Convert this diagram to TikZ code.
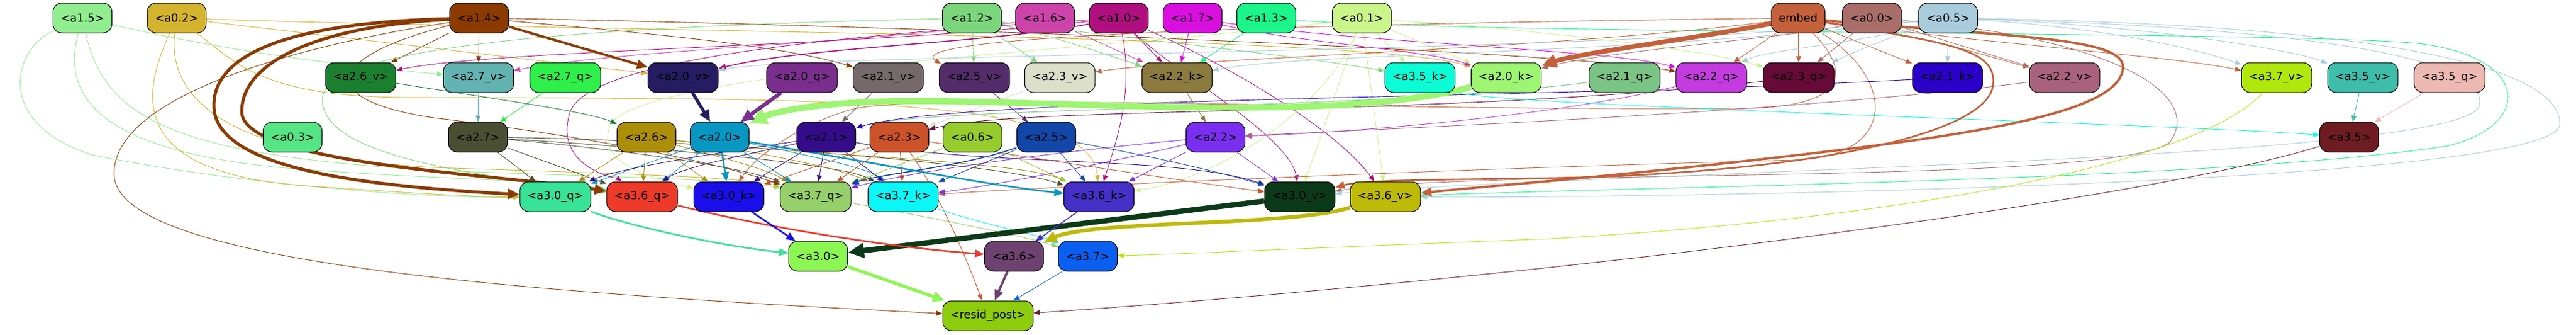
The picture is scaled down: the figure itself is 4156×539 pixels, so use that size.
\documentclass[tikz,border=0pt]{standalone}
\usepackage{fontspec}
\setmainfont{DejaVu Sans}
\usetikzlibrary{arrows.meta}
\pgfdeclarelayer{back}
\pgfdeclarelayer{bg}
\pgfsetlayers{back,bg,main}
\definecolor{c15}{HTML}{90EE90}\definecolor{c02}{HTML}{D4B32E}\definecolor{c14}{HTML}{8B3A00}
\definecolor{c12}{HTML}{7BD67B}\definecolor{c16}{HTML}{CC44AA}\definecolor{c10}{HTML}{B0107F}
\definecolor{c17}{HTML}{D90FE0}\definecolor{c13}{HTML}{1BF58A}\definecolor{c01}{HTML}{C9F58A}
\definecolor{cem}{HTML}{C4613A}\definecolor{c00}{HTML}{AA6E6A}\definecolor{c05}{HTML}{A9CCDC}
\definecolor{c26v}{HTML}{1B7F30}\definecolor{c27v}{HTML}{62B3B1}\definecolor{c27q}{HTML}{2FEF4A}
\definecolor{c20v}{HTML}{261C62}\definecolor{c20q}{HTML}{7A2F8E}\definecolor{c21v}{HTML}{76696A}
\definecolor{c25v}{HTML}{522D6A}\definecolor{c23v}{HTML}{DCDFC9}\definecolor{c22k}{HTML}{8B7B3E}
\definecolor{c35k}{HTML}{0CFCD6}\definecolor{c20k}{HTML}{9EF572}\definecolor{c21q}{HTML}{7AC485}
\definecolor{c22q}{HTML}{C43CE0}\definecolor{c23q}{HTML}{660A38}\definecolor{c21k}{HTML}{2B00C8}
\definecolor{c22v}{HTML}{A9627E}\definecolor{c37v}{HTML}{B0E80E}\definecolor{c35v}{HTML}{3DBDAA}
\definecolor{c35q}{HTML}{EDBAB3}\definecolor{c03}{HTML}{56E585}\definecolor{c27}{HTML}{4A4E32}
\definecolor{c26}{HTML}{AD8E09}\definecolor{c20}{HTML}{0897C2}\definecolor{c21}{HTML}{340C8A}
\definecolor{c23}{HTML}{CC5229}\definecolor{c06}{HTML}{97CC2F}\definecolor{c25}{HTML}{1246A8}
\definecolor{c22}{HTML}{7A2FF0}\definecolor{c35}{HTML}{6E1C22}\definecolor{c30q}{HTML}{38E297}
\definecolor{c36q}{HTML}{EE3A28}\definecolor{c30k}{HTML}{1A0EEA}\definecolor{c37q}{HTML}{96D06A}
\definecolor{c37k}{HTML}{0AF6F7}\definecolor{c36k}{HTML}{4530C8}\definecolor{c30v}{HTML}{0B3A18}
\definecolor{c36v}{HTML}{BEBA08}\definecolor{c30}{HTML}{8CF752}\definecolor{c36}{HTML}{6E4270}
\definecolor{c37}{HTML}{0A5FF0}\definecolor{cres}{HTML}{8ECC0E}
\tikzset{
 nd/.style={draw=black, line width=1pt, rounded corners=14pt, minimum width=95pt, minimum height=48pt, inner xsep=12pt, inner ysep=0pt, font=\fontsize{18}{21}\selectfont, text=black},
 e1/.style={draw=#1, line width=0.9pt, -{Triangle[length=10pt,width=8pt]}},
 e2/.style={draw=#1, line width=1.6pt, -{Triangle[length=12pt,width=10pt]}},
 e3/.style={draw=#1, line width=2.6pt, -{Triangle[length=15pt,width=12pt]}},
 e4/.style={draw=#1, line width=3.8pt, -{Triangle[length=17pt,width=14pt]}},
 e5/.style={draw=#1, line width=5pt, -{Triangle[length=19pt,width=16pt]}},
 e6/.style={draw=#1, line width=6pt, -{Triangle[length=21pt,width=18pt]}},
 e7/.style={draw=#1, line width=7.5pt, -{Triangle[length=24pt,width=21pt]}},
 e8/.style={draw=#1, line width=8.5pt, -{Triangle[length=26pt,width=23pt]}},
 e9/.style={draw=#1, line width=10pt, -{Triangle[length=28pt,width=26pt]}},
}
\begin{document}
\begin{tikzpicture}[x=1pt,y=-1pt]
\begin{pgfonlayer}{back}
\fill[white] (0,0) rectangle (4156,539);
\end{pgfonlayer}
\useasboundingbox (0,0) rectangle (4156,539);
% row 1
\node[nd,fill=c15] (a15) at (133,29) {<a1.5>};
\node[nd,fill=c02] (a02) at (285,29) {<a0.2>};
\node[nd,fill=c14] (a14) at (773,29) {<a1.4>};
\node[nd,fill=c12] (a12) at (1568,29) {<a1.2>};
\node[nd,fill=c16] (a16) at (1686,29) {<a1.6>};
\node[nd,fill=c10] (a10) at (1805,29) {<a1.0>};
\node[nd,fill=c17] (a17) at (1924,29) {<a1.7>};
\node[nd,fill=c13] (a13) at (2043,29) {<a1.3>};
\node[nd,fill=c01] (a01) at (2197,29) {<a0.1>};
\node[nd,fill=cem,minimum width=86pt] (embed) at (2901,29) {embed};
\node[nd,fill=c00] (a00) at (3020,29) {<a0.0>};
\node[nd,fill=c05] (a05) at (3143,29) {<a0.5>};
% row 2
\node[nd,fill=c26v] (a26v) at (582,125) {<a2.6\_v>};
\node[nd,fill=c27v] (a27v) at (772,125) {<a2.7\_v>};
\node[nd,fill=c27q] (a27q) at (912,125) {<a2.7\_q>};
\node[nd,fill=c20v] (a20v) at (1102,125) {<a2.0\_v>};
\node[nd,fill=c20q] (a20q) at (1294,125) {<a2.0\_q>};
\node[nd,fill=c21v] (a21v) at (1433,125) {<a2.1\_v>};
\node[nd,fill=c25v] (a25v) at (1572,125) {<a2.5\_v>};
\node[nd,fill=c23v] (a23v) at (1710,125) {<a2.3\_v>};
\node[nd,fill=c22k] (a22k) at (1899,125) {<a2.2\_k>};
\node[nd,fill=c35k] (a35k) at (2291,125) {<a3.5\_k>};
\node[nd,fill=c20k] (a20k) at (2430,125) {<a2.0\_k>};
\node[nd,fill=c21q] (a21q) at (2621,125) {<a2.1\_q>};
\node[nd,fill=c22q] (a22q) at (2761,125) {<a2.2\_q>};
\node[nd,fill=c23q] (a23q) at (2902,125) {<a2.3\_q>};
\node[nd,fill=c21k] (a21k) at (3142,125) {<a2.1\_k>};
\node[nd,fill=c22v] (a22v) at (3331,125) {<a2.2\_v>};
\node[nd,fill=c37v] (a37v) at (3673,125) {<a3.7\_v>};
\node[nd,fill=c35v] (a35v) at (3812,125) {<a3.5\_v>};
\node[nd,fill=c35q] (a35q) at (3952,125) {<a3.5\_q>};
% row 3
\node[nd,fill=c03] (a03) at (472,221) {<a0.3>};
\node[nd,fill=c27] (a27) at (771,221) {<a2.7>};
\node[nd,fill=c26] (a26) at (1043,221) {<a2.6>};
\node[nd,fill=c20] (a20) at (1161,221) {<a2.0>};
\node[nd,fill=c21] (a21) at (1333,221) {<a2.1>};
\node[nd,fill=c23] (a23) at (1451,221) {<a2.3>};
\node[nd,fill=c06] (a06) at (1569,221) {<a0.6>};
\node[nd,fill=c25] (a25) at (1688,221) {<a2.5>};
\node[nd,fill=c22] (a22) at (1961,221) {<a2.2>};
\node[nd,fill=c35] (a35) at (3790,221) {<a3.5>};
% row 4
\node[nd,fill=c30q] (a30q) at (896,317) {<a3.0\_q>};
\node[nd,fill=c36q] (a36q) at (1036,317) {<a3.6\_q>};
\node[nd,fill=c30k] (a30k) at (1176,317) {<a3.0\_k>};
\node[nd,fill=c37q] (a37q) at (1316,317) {<a3.7\_q>};
\node[nd,fill=c37k] (a37k) at (1457,317) {<a3.7\_k>};
\node[nd,fill=c36k] (a36k) at (1773,317) {<a3.6\_k>};
\node[nd,fill=c30v] (a30v) at (2097,317) {<a3.0\_v>};
\node[nd,fill=c36v] (a36v) at (2235,317) {<a3.6\_v>};
% row 5, 6
\node[nd,fill=c30] (a30) at (1320,413) {<a3.0>};
\node[nd,fill=c36] (a36) at (1636,413) {<a3.6>};
\node[nd,fill=c37] (a37) at (1755,413) {<a3.7>};
\node[nd,fill=cres] (resid) at (1594,509) {<resid\_post>};

\begin{pgfonlayer}{bg}
% ---- thin edges from row 1
\draw[e1=c15] (a15) .. controls (400,90) and (600,110) .. (a27v);
\draw[e1=c15] (a15) .. controls (20,80) and (-10,200) .. (150,250) .. controls (400,300) and (700,320) .. (a30q);
\draw[e1=c15] (a15) .. controls (100,150) and (150,240) .. (450,270) .. controls (700,290) and (900,290) .. (a36q);
\draw[e1=c15] (a15) .. controls (170,200) and (300,250) .. (700,275) .. controls (1000,285) and (1200,290) .. (a37q);
\draw[e1=c02] (a02) -- (a20v);
\draw[e1=c02] (a02) .. controls (900,50) and (2200,55) .. (a20k);
\draw[e1=c02] (a02) .. controls (380,100) and (420,155) .. (650,157) .. controls (1300,160) and (1760,150) .. (a36k);
\draw[e1=c02] (a02) .. controls (230,150) and (200,280) .. (500,300) .. controls (650,310) and (760,318) .. (a30q);
\draw[e1=c02] (a02) .. controls (270,150) and (350,250) .. (700,270) .. controls (1000,280) and (1200,285) .. (a37q);
\draw[e1=c14] (a14) -- (a27v);
\draw[e1=c14] (a14) -- (a26v);
\draw[e1=c14] (a14) .. controls (1000,50) and (1250,70) .. (a21v);
\draw[e1=c14] (a14) .. controls (1400,40) and (2500,80) .. (a22q);
\draw[e1=c14] (a14) .. controls (530,90) and (500,160) .. (700,190) .. controls (950,220) and (1150,260) .. (a37q);
\draw[e1=c14] (a14) .. controls (500,70) and (184,150) .. (184,280) .. controls (184,420) and (800,470) .. (resid);
\draw[e1=c12] (a12) -- (a25v);
\draw[e1=c12] (a12) -- (a23v);
\draw[e1=c12] (a12) .. controls (1700,60) .. (a22k);
\draw[e1=c12] (a12) .. controls (1800,60) and (2100,90) .. (a35k);
\draw[e1=c12] (a12) .. controls (1100,40) and (520,60) .. (520,160) .. controls (520,250) and (750,280) .. (a36q);
\draw[e1=c16] (a16) -- (a22k);
\draw[e1=c16] (a16) .. controls (1400,70) and (1000,80) .. (a27v);
\draw[e1=c10] (a10) -- (a22k);
\draw[e2=c10] (a10) .. controls (1600,70) and (1300,75) .. (a20v);
\draw[e1=c10] (a10) .. controls (1400,75) and (800,80) .. (a26v);
\draw[e1=c10] (a10) .. controls (1830,150) and (1800,230) .. (a36k);
\draw[e1=c10] (a10) .. controls (1900,120) and (2080,220) .. (a30v);
\draw[e1=c10] (a10) .. controls (1950,90) and (2150,200) .. (a36v);
\draw[e1=c10] (a10) .. controls (1300,60) and (950,100) .. (920,180) .. controls (890,270) and (1000,290) .. (a36q);
\draw[e1=c17] (a17) -- (a22k);
\draw[e1=c17] (a17) .. controls (2100,70) and (2300,80) .. (a20k);
\draw[e1=c17] (a17) .. controls (2200,70) and (2600,80) .. (a22q);
\draw[e1=c13] (a13) -- (a22k);
\draw[e1=c13] (a13) .. controls (2400,56) and (3700,50) .. (3900,70) .. controls (4080,90) and (4090,200) .. (3950,235) .. controls (3600,290) and (2700,300) .. (a36v);
\draw[e1=c01] (a01) -- (a35k);
\draw[e1=c01] (a01) -- (a20k);
\draw[e1=c01] (a01) .. controls (2500,50) and (2750,80) .. (a23q);
\draw[e1=c01] (a01) -- (a30v);
\draw[e1=c01] (a01) -- (a36v);
\draw[e1=c01] (a01) .. controls (2150,150) and (2000,280) .. (a36k);
\draw[e1=c01] (a01) .. controls (1800,80) and (1050,110) .. (985,200) .. controls (960,260) and (1040,285) .. (a30k);
\draw[e1=cem] (embed) -- (a23q);
\draw[e1=cem] (embed) -- (a22q);
\draw[e1=cem] (embed) -- (a21k);
\draw[e1=cem] (embed) .. controls (3100,60) .. (a22v);
\draw[e1=cem] (embed) .. controls (3200,70) and (3500,90) .. (a37v);
\draw[e1=cem] (embed) .. controls (2000,40) and (1450,60) .. (1518,103);
\draw[e1=cem] (embed) .. controls (2500,80) and (1900,95) .. (a23v);
\draw[e1=cem] (embed) .. controls (2990,120) and (2980,175) .. (2800,175) .. controls (2200,178) and (1500,150) .. (1380,175) .. controls (1300,195) and (1220,250) .. (a30k);
\draw[e1=cem] (embed) .. controls (3060,130) and (3060,250) .. (2900,258) .. controls (2400,270) and (1700,300) .. (a37k);
\draw[e1=c00] (a00) -- (a23q);
\draw[e1=c00] (a00) .. controls (2900,60) and (2600,80) .. (a20k);
\draw[e1=c00] (a00) -- (a22v);
\draw[e1=c00] (a00) .. controls (3400,60) and (3560,150) .. (3500,230) .. controls (3400,300) and (2400,270) .. (a30v);
\draw[e1=c05] (a05) -- (a21k);
\draw[e1=c05] (a05) .. controls (3400,45) and (3550,80) .. (a37v);
\draw[e1=c05] (a05) .. controls (3450,40) and (3700,80) .. (a35v);
\draw[e1=c05] (a05) .. controls (3050,60) and (3000,80) .. (a23q);
\draw[e1=c05] (a05) .. controls (3000,70) and (2850,80) .. (a22q);
\draw[e1=c05] (a05) .. controls (2600,90) and (2100,85) .. (a22k);
\draw[e1=c05] (a05) .. controls (2500,90) and (1300,85) .. (a20v);
\draw[e1=c05] (a05) .. controls (3800,40) and (4130,100) .. (4130,200) .. controls (4130,300) and (2600,320) .. (a36v);
\draw[e1=c05] (a05) .. controls (3700,45) and (4020,90) .. (4000,170) .. controls (3980,260) and (2600,275) .. (a30v);
% ---- row 2 to row 3
\draw[e1=c27v] (a27v) -- (a27);
\draw[e1=c27q] (a27q) -- (a27);
\draw[e1=c26v] (a26v) .. controls (800,160) and (950,180) .. (a26);
\draw[e1=c21v] (a21v) -- (a21);
\draw[e1=c25v] (a25v) -- (a25);
\draw[e1=c23v] (a23v) -- (a23);
\draw[e1=c22k] (a22k) -- (a22);
\draw[e1=c21q] (a21q) .. controls (2200,180) and (1500,170) .. (a21);
\draw[e1=c21k] (a21k) .. controls (2500,160) and (1550,155) .. (a21);
\draw[e1=c23q] (a23q) .. controls (2300,190) and (1650,170) .. (a23);
\draw[e1=c22q] (a22q) .. controls (2500,190) and (2150,215) .. (a22);
\draw[e1=c22v] (a22v) .. controls (2900,180) and (2300,205) .. (a22);
\draw[e1=c35k] (a35k) .. controls (2400,170) and (3500,200) .. (a35);
\draw[e1=c35v] (a35v) -- (a35);
\draw[e1=c35q] (a35q) -- (a35);
\draw[e1=c37v] (a37v) .. controls (3550,260) and (3100,350) .. (2500,385) .. controls (2100,400) and (1900,410) .. (a37);
\draw[e1=c35] (a35) .. controls (3600,280) and (3300,330) .. (3000,370) .. controls (2500,440) and (1900,490) .. (resid);
% ---- row 3 to row 4
\draw[e1=c27] (a27) -- (a30q);
\draw[e1=c27] (a27) -- (a36q);
\draw[e1=c27] (a27) .. controls (1000,240) and (1200,270) .. (a37q);
\draw[e1=c27] (a27) .. controls (1000,235) and (1350,260) .. (a37k);
\draw[e1=c27] (a27) .. controls (1100,225) and (1600,260) .. (a36k);
\draw[e1=c26] (a26) -- (a30q);
\draw[e1=c26] (a26) -- (a36q);
\draw[e1=c26] (a26) -- (a30k);
\draw[e1=c26] (a26) .. controls (1150,250) and (1230,270) .. (a37q);
\draw[e1=c26] (a26) .. controls (1200,240) and (1350,270) .. (a37k);
\draw[e1=c26] (a26) .. controls (1300,250) and (1650,260) .. (a36k);
\draw[e1=c20] (a20) -- (a30q);
\draw[e1=c20] (a20) -- (a36q);
\draw[e1=c20] (a20) -- (a37q);
\draw[e1=c20] (a20) .. controls (1300,250) and (1400,270) .. (a37k);
\draw[e1=c21] (a21) -- (a30k);
\draw[e1=c21] (a21) -- (a37q);
\draw[e1=c21] (a21) -- (a37k);
\draw[e1=c21] (a21) .. controls (1200,250) and (1100,270) .. (a36q);
\draw[e1=c21] (a21) .. controls (1200,240) and (1000,270) .. (a30q);
\draw[e1=c21] (a21) .. controls (1600,270) and (1900,250) .. (a30v);
\draw[e1=c23] (a23) -- (a30k);
\draw[e1=c23] (a23) -- (a37q);
\draw[e1=c23] (a23) -- (a37k);
\draw[e1=c23] (a23) .. controls (1700,260) and (1900,290) .. (a30v);
\draw[e1=c23] (a23) .. controls (1520,320) and (1560,420) .. (resid);
\draw[e1=c06] (a06) -- (a36k);
\draw[e1=c06] (a06) -- (a37q);
\draw[e1=c25] (a25) -- (a36k);
\draw[e1=c25] (a25) -- (a37k);
\draw[e1=c25] (a25) .. controls (1850,250) and (1980,280) .. (a30v);
\draw[e2=c25] (a25) .. controls (1550,270) and (1420,280) .. (a37q);
\draw[e1=c22] (a22) -- (a36k);
\draw[e1=c22] (a22) .. controls (1800,260) and (1600,300) .. (a37k);
\draw[e1=c22] (a22) .. controls (1750,240) and (1500,270) .. (a37q);
\draw[e1=c22] (a22) -- (a30v);
% ---- row 4 to row 5/6
\draw[e1=c37q] (a37q) .. controls (1500,350) and (1650,380) .. (a37);
\draw[e1=c37k] (a37k) .. controls (1580,360) and (1680,380) .. (a37);
\draw[e1=c37] (a37) -- (resid);
% ---- thick edges
\draw[e9=c20k] (a20k) .. controls (2150,200) and (1700,160) .. (1450,163) .. controls (1320,165) and (1250,180) .. (a20);
\draw[e7=cem] (embed) .. controls (2750,60) and (2550,85) .. (a20k);
\draw[e4=cem] (embed) .. controls (3250,60) and (3430,60) .. (3425,110) .. controls (3420,180) and (3200,215) .. (2900,250) .. controls (2600,285) and (2400,300) .. (a36v);
\draw[e3=cem] (embed) .. controls (3150,70) and (3225,80) .. (3215,140) .. controls (3200,220) and (2900,280) .. (2500,287) .. controls (2300,290) and (2200,290) .. (a30v);
\draw[e5=c14] (a14) .. controls (520,35) and (345,70) .. (345,170) .. controls (345,275) and (600,300) .. (a30q);
\draw[e5=c14] (a14) .. controls (540,40) and (390,90) .. (390,180) .. controls (390,265) and (800,280) .. (a36q);
\draw[e4=c14] (a14) -- (a20v);
\draw[e5=c20v] (a20v) -- (a20);
\draw[e6=c20q] (a20q) -- (a20);
\draw[e8=c30v] (a30v) -- (a30);
\draw[e6=c36v] (a36v) .. controls (2080,365) and (1760,355) .. (a36);
\draw[e5=c30] (a30) -- (resid);
\draw[e4=c36] (a36) -- (resid);
\draw[e3=c30q] (a30q) .. controls (1000,360) and (1150,395) .. (a30);
\draw[e3=c36q] (a36q) .. controls (1250,370) and (1450,400) .. (a36);
\draw[e3=c30k] (a30k) -- (a30);
\draw[e2=c36k] (a36k) -- (a36);
\draw[e3=c20] (a20) .. controls (1400,260) and (1600,300) .. (a36k);
\draw[e3=c20] (a20) -- (a30k);
\end{pgfonlayer}
\end{tikzpicture}
\end{document}
